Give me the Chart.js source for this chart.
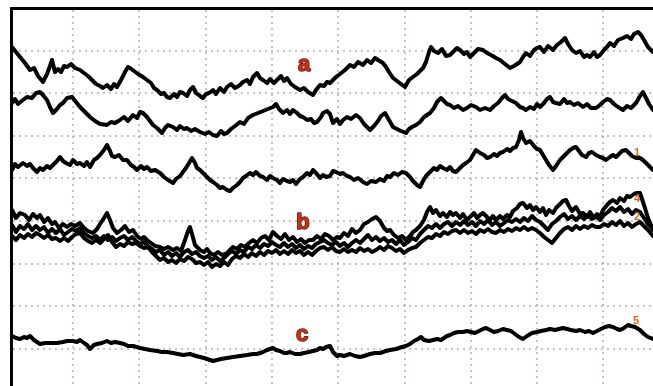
<!DOCTYPE html>
<html>
<head>
<meta charset="utf-8">
<script src="https://cdn.jsdelivr.net/npm/chart.js@4.4.0/dist/chart.umd.min.js"></script>
<style>
  html, body { margin: 0; padding: 0; background: #fff; overflow: hidden; }
</style>
</head>
<body>
<canvas id="trazos" width="653" height="386"></canvas>
<script>
// Posiciones de las líneas punteadas de la rejilla
const gridX = [73, 139, 206, 272, 338, 405, 471, 537, 603];
const gridY = [51, 93, 136, 178, 221, 264, 306, 349];

// Trazos: [posición horizontal, posición vertical]
const trazoA = [[12,47],[16,52],[20,57],[25,63],[30,70],[34,68],[38,76],[43,82],[47,74],[50,66],[52,60],[55,72],[58,69],[61,72],[64,66],[67,67],[71,64],[75,68],[80,70],[84,73],[88,76],[92,80],[96,84],[100,86],[103,88],[107,85],[111,89],[114,84],[117,87],[121,80],[125,72],[128,67],[130,68],[134,71],[138,74],[143,77],[147,80],[151,83],[154,88],[157,90],[161,94],[164,93],[167,97],[170,98],[174,94],[177,97],[180,92],[183,93],[187,96],[190,90],[193,87],[196,93],[200,96],[203,98],[206,94],[209,93],[213,90],[216,94],[220,88],[224,92],[227,87],[231,84],[235,88],[240,85],[243,82],[247,80],[250,84],[253,77],[257,73],[260,78],[263,80],[267,83],[270,79],[274,83],[277,80],[281,76],[284,81],[287,78],[291,84],[295,87],[300,90],[304,88],[308,92],[313,95],[316,90],[320,85],[324,86],[327,82],[330,83],[336,77],[340,74],[345,70],[350,65],[354,67],[358,62],[363,65],[367,60],[371,63],[375,58],[378,60],[383,63],[386,67],[389,72],[393,78],[397,81],[401,84],[405,87],[409,80],[413,77],[417,74],[420,71],[423,68],[426,62],[429,52],[431,47],[434,51],[438,53],[442,49],[446,56],[450,55],[454,51],[457,48],[460,50],[464,54],[467,52],[470,57],[474,53],[478,49],[483,50],[487,53],[491,55],[496,58],[500,60],[505,64],[510,68],[514,66],[517,64],[520,62],[523,57],[526,53],[530,56],[534,50],[537,48],[540,47],[544,52],[548,46],[553,50],[557,45],[561,42],[565,38],[568,44],[572,50],[576,53],[580,51],[584,57],[587,55],[590,57],[594,52],[597,57],[600,55],[604,50],[607,47],[610,43],[614,46],[618,40],[623,38],[627,36],[631,39],[634,34],[638,32],[641,35],[644,40],[648,47],[653,52]];

const trazo2 = [[12,103],[15,99],[18,104],[23,100],[27,97],[32,98],[36,93],[40,92],[43,95],[47,100],[50,107],[53,113],[57,109],[60,105],[63,103],[67,98],[72,97],[76,102],[80,107],[84,111],[87,114],[90,117],[95,121],[100,124],[107,125],[111,122],[115,123],[120,120],[124,117],[128,121],[133,115],[137,118],[140,112],[143,113],[147,117],[150,121],[153,125],[157,128],[162,133],[165,128],[168,125],[173,127],[177,130],[180,126],[184,129],[187,128],[191,131],[195,129],[200,132],[205,134],[209,132],[213,135],[217,136],[221,131],[224,134],[227,133],[231,129],[235,126],[240,122],[244,124],[248,118],[253,115],[258,113],[263,111],[268,109],[273,107],[276,104],[279,109],[283,113],[287,110],[290,114],[293,110],[297,113],[300,116],[303,117],[307,120],[311,119],[314,123],[317,122],[321,117],[323,113],[327,111],[330,114],[333,123],[337,119],[340,124],[343,120],[347,117],[351,119],[356,115],[360,118],[364,124],[367,127],[370,130],[374,126],[378,121],[381,116],[385,113],[389,120],[393,127],[397,129],[401,131],[406,133],[409,129],[412,127],[416,125],[420,122],[424,117],[427,115],[430,113],[434,108],[437,102],[441,98],[444,101],[447,104],[450,105],[454,108],[458,106],[463,110],[467,108],[471,105],[476,107],[480,110],[485,108],[490,110],[494,106],[498,103],[502,98],[505,95],[508,99],[512,101],[516,103],[520,107],[523,108],[526,110],[530,107],[534,109],[537,104],[540,107],[544,103],[547,99],[550,97],[553,102],[556,103],[560,104],[564,99],[567,103],[570,102],[574,105],[578,103],[583,107],[587,104],[591,108],[596,108],[600,105],[603,102],[607,99],[610,100],[614,104],[618,107],[623,110],[627,106],[631,108],[636,103],[640,96],[643,92],[646,98],[649,104],[653,110]];

const trazo1 = [[12,170],[15,164],[18,167],[23,163],[27,166],[30,164],[33,168],[37,172],[40,168],[43,170],[47,166],[50,168],[53,165],[57,161],[60,157],[63,161],[66,163],[70,165],[73,160],[77,164],[80,163],[84,166],[87,162],[90,167],[94,160],[97,158],[100,155],[104,150],[107,145],[110,151],[112,156],[115,157],[119,155],[123,160],[127,160],[131,165],[134,167],[137,170],[141,166],[144,169],[147,167],[151,171],[155,170],[160,173],[164,177],[168,180],[173,183],[176,179],[180,176],[183,172],[186,168],[189,163],[192,158],[195,163],[197,168],[200,170],[204,174],[207,177],[210,180],[213,182],[217,185],[220,188],[223,187],[227,190],[230,191],[233,188],[237,185],[240,182],[243,178],[246,176],[250,173],[253,175],[256,172],[260,176],[263,177],[267,180],[270,176],[273,178],[277,180],[280,183],[283,179],[287,181],[290,182],[293,180],[296,184],[300,179],[303,177],[307,173],[310,175],[313,170],[316,173],[320,178],[323,175],[326,177],[330,176],[333,171],[336,172],[340,174],[343,173],[347,176],[350,177],[354,180],[358,178],[363,182],[367,184],[371,181],[376,182],[380,179],[384,181],[387,176],[390,177],[394,173],[398,175],[402,172],[406,173],[410,177],[413,181],[417,185],[420,187],[423,181],[426,176],[430,172],[434,168],[437,170],[440,166],[443,168],[447,170],[450,167],[453,171],[456,172],[460,168],[463,165],[466,163],[470,160],[473,155],[476,150],[480,153],[484,155],[487,158],[490,157],[494,154],[497,156],[500,153],[503,152],[507,149],[510,151],[513,148],[516,147],[519,140],[521,132],[523,138],[526,143],[530,141],[534,146],[537,149],[540,150],[543,155],[546,160],[549,165],[553,170],[556,166],[560,160],[563,157],[567,153],[570,150],[573,148],[576,147],[579,151],[582,155],[586,157],[589,153],[592,152],[596,155],[600,157],[603,158],[606,160],[610,157],[613,155],[616,157],[619,154],[622,151],[626,150],[629,153],[632,156],[636,158],[640,158],[643,160],[646,163],[650,167],[653,170]];

const trazo4 = [[12,210],[16,218],[20,213],[25,215],[29,220],[33,214],[37,218],[40,215],[44,222],[48,218],[52,224],[55,222],[59,228],[63,224],[67,227],[71,224],[75,226],[80,223],[84,228],[88,231],[93,233],[97,229],[100,224],[104,218],[107,213],[110,220],[113,228],[117,233],[121,230],[125,226],[129,232],[133,230],[137,236],[141,239],[144,237],[147,240],[151,243],[155,246],[160,247],[164,249],[168,247],[173,250],[177,248],[181,251],[185,240],[188,231],[190,227],[192,234],[195,245],[200,250],[204,252],[207,249],[210,253],[214,255],[218,252],[222,255],[227,253],[230,250],[233,247],[237,249],[241,245],[245,247],[249,243],[253,240],[257,243],[261,238],[265,236],[269,240],[273,232],[277,236],[281,239],[285,234],[289,240],[293,237],[297,242],[301,239],[305,243],[309,240],[313,240],[317,236],[321,239],[325,234],[329,236],[333,240],[337,237],[340,238],[344,233],[348,236],[352,229],[356,233],[360,230],[364,224],[368,222],[372,219],[376,217],[380,221],[384,228],[387,231],[390,230],[394,235],[398,238],[402,236],[406,240],[410,236],[413,232],[416,230],[420,226],[424,220],[427,212],[430,207],[433,213],[436,210],[440,216],[443,213],[447,217],[450,212],[453,215],[456,213],[460,218],[463,214],[467,220],[470,217],[474,213],[477,218],[480,215],[483,213],[487,217],[490,220],[493,216],[496,220],[500,216],[503,219],[507,215],[510,217],[513,211],[517,208],[520,204],[523,203],[527,208],[530,205],[533,210],[536,207],[540,212],[543,208],[546,215],[549,210],[553,213],[556,208],[560,204],[563,201],[566,200],[569,206],[572,211],[576,207],[580,214],[583,213],[587,217],[590,212],[594,218],[597,214],[600,217],[603,210],[607,205],[610,202],[613,200],[617,203],[620,198],[624,201],[627,196],[630,197],[634,194],[637,193],[640,193],[644,205],[648,218],[653,230]];

const trazo3 = [[12,225],[16,232],[20,226],[24,229],[28,224],[32,230],[36,226],[40,230],[44,227],[48,233],[52,229],[56,233],[60,229],[64,235],[68,232],[72,229],[76,231],[80,228],[84,233],[88,236],[92,238],[96,236],[100,240],[104,236],[108,240],[112,237],[116,241],[120,238],[124,236],[128,240],[132,237],[136,241],[140,244],[144,242],[148,246],[152,249],[156,252],[160,250],[164,255],[168,252],[172,256],[176,253],[180,257],[184,252],[188,250],[192,254],[196,252],[200,256],[204,258],[208,256],[212,260],[216,257],[220,261],[224,258],[228,254],[232,251],[236,254],[240,250],[244,252],[248,247],[252,249],[256,245],[260,248],[264,244],[268,246],[272,242],[276,245],[280,247],[284,243],[288,247],[292,244],[296,248],[300,245],[304,249],[308,246],[312,248],[316,244],[320,242],[324,240],[328,243],[332,245],[336,242],[340,246],[344,243],[348,247],[352,243],[356,240],[360,243],[364,239],[368,235],[372,240],[376,237],[380,241],[384,238],[388,242],[392,240],[396,244],[400,240],[404,245],[408,242],[412,238],[416,240],[420,234],[424,230],[428,226],[432,228],[436,224],[440,228],[444,224],[448,222],[452,226],[456,222],[460,225],[464,221],[468,225],[472,222],[476,226],[480,221],[484,224],[488,220],[492,225],[496,222],[500,226],[504,223],[508,220],[512,222],[516,219],[520,222],[524,218],[528,221],[532,216],[536,220],[540,222],[544,226],[548,230],[552,224],[556,221],[560,217],[564,214],[568,219],[572,216],[576,220],[580,216],[584,219],[588,215],[592,219],[596,216],[600,220],[604,215],[608,212],[612,208],[616,211],[620,207],[624,212],[628,209],[632,214],[636,210],[640,212],[644,218],[648,224],[653,229]];

const trazo2b = [[12,236],[16,240],[20,235],[24,238],[28,234],[32,237],[36,233],[40,235],[44,238],[48,235],[52,239],[56,238],[60,241],[64,238],[68,241],[72,237],[76,234],[80,233],[84,238],[88,241],[92,243],[96,240],[100,243],[104,239],[108,235],[112,242],[116,247],[120,244],[124,246],[128,242],[132,244],[136,243],[140,246],[144,248],[148,247],[152,252],[156,256],[160,260],[164,258],[168,262],[172,260],[176,263],[180,259],[184,261],[188,257],[192,259],[196,263],[200,262],[204,265],[208,262],[212,267],[216,264],[220,266],[224,262],[228,265],[232,259],[236,256],[240,258],[244,254],[248,257],[252,253],[256,256],[260,252],[264,255],[268,251],[272,253],[276,250],[280,254],[284,251],[288,254],[292,250],[296,253],[300,251],[304,255],[308,252],[312,255],[316,251],[320,248],[324,247],[328,250],[332,247],[336,251],[340,252],[344,249],[348,252],[352,250],[356,252],[360,248],[364,251],[368,249],[372,252],[376,250],[380,247],[384,250],[388,246],[392,248],[396,251],[400,249],[404,253],[408,250],[412,248],[416,247],[420,243],[424,240],[428,237],[432,238],[436,234],[440,236],[444,232],[448,234],[452,231],[456,230],[460,233],[464,230],[468,233],[472,231],[476,234],[480,230],[484,232],[488,229],[492,232],[496,233],[500,230],[504,232],[508,229],[512,231],[516,228],[520,230],[524,227],[528,230],[532,228],[536,230],[540,233],[544,237],[548,240],[552,243],[556,238],[560,233],[564,229],[568,227],[572,230],[576,226],[580,229],[584,226],[588,228],[592,225],[596,227],[600,227],[604,224],[608,226],[612,222],[616,225],[620,221],[624,226],[628,223],[632,227],[636,224],[640,222],[644,226],[648,230],[653,236]];

const trazoC = [[12,336],[16,338],[20,339],[24,337],[27,338],[30,336],[34,340],[37,342],[40,344],[45,343],[50,343],[57,343],[63,342],[67,341],[73,341],[77,342],[80,340],[84,343],[87,345],[90,349],[94,345],[97,344],[102,343],[107,341],[111,343],[115,342],[120,343],[124,344],[128,346],[133,346],[137,347],[140,348],[145,349],[150,350],[157,351],[162,352],[167,352],[173,353],[178,354],[183,355],[190,354],[196,356],[200,357],[204,358],[207,359],[210,360],[213,361],[217,360],[221,359],[227,358],[233,357],[240,356],[247,355],[253,354],[257,354],[263,352],[267,350],[270,349],[273,348],[276,350],[280,351],[284,353],[287,353],[290,352],[295,354],[300,354],[304,353],[309,352],[313,351],[317,350],[320,348],[323,349],[326,347],[330,346],[333,352],[337,356],[340,355],[344,356],[350,354],[355,356],[360,357],[364,356],[370,354],[375,353],[380,353],[386,351],[390,350],[396,349],[402,347],[406,346],[410,344],[414,341],[418,339],[421,337],[424,340],[429,341],[433,340],[437,339],[441,340],[444,338],[447,336],[450,335],[454,333],[458,332],[463,332],[467,331],[471,332],[475,333],[479,331],[483,329],[486,328],[490,330],[494,332],[498,331],[503,329],[507,330],[511,331],[515,334],[519,337],[523,339],[527,336],[532,333],[537,332],[541,331],[546,330],[550,329],[555,330],[559,329],[563,328],[567,329],[571,330],[576,331],[580,330],[585,332],[589,331],[593,333],[597,331],[601,329],[605,327],[609,326],[613,327],[617,329],[620,330],[624,328],[628,325],[631,326],[635,327],[640,330],[644,334],[648,337],[653,339]];

// Letras rojas de los grupos y números pequeños del borde derecho
const letras = ['a', 'b', 'c'];
const letrasX = [304, 303, 302];
const letrasY = [65, 223, 335];
const numeros = ['1', '4', '2', '5'];
const numerosX = [637, 637, 637, 636];
const numerosY = [153, 199, 217, 321];

const trazos = [trazoA, trazo2, trazo1, trazo4, trazo3, trazo2b, trazoC];

const etiquetas = {
    id: 'etiquetas',
    afterDatasetsDraw(chart) {
        const { ctx, scales: { x, y } } = chart;
        ctx.save();
        ctx.textAlign = 'center';
        ctx.textBaseline = 'middle';
        ctx.font = 'bold 22px "Liberation Sans", Arial, sans-serif';
        ctx.lineJoin = 'round';
        letras.forEach((t, i) => {
            const px = x.getPixelForValue(letrasX[i]);
            const py = y.getPixelForValue(letrasY[i]);
            ctx.lineWidth = 1.5;
            ctx.strokeStyle = '#6b1208';
            ctx.strokeText(t, px, py);
            ctx.fillStyle = '#cc2f17';
            ctx.fillText(t, px, py);
        });
        ctx.font = 'bold 11px "Liberation Sans", Arial, sans-serif';
        ctx.fillStyle = '#d9651e';
        numeros.forEach((t, i) => {
            ctx.fillText(t, x.getPixelForValue(numerosX[i]), y.getPixelForValue(numerosY[i]));
        });
        ctx.restore();
    }
};

const rejilla = {
    color: 'rgba(170, 140, 130, 0.55)',
    lineWidth: 2,
    drawTicks: false
};

const ctx = document.getElementById('trazos').getContext('2d');
new Chart(ctx, {
    type: 'line',
    data: {
        datasets: trazos.map(t => ({
            data: t.map(p => ({ x: p[0], y: p[1] })),
            borderColor: '#000',
            borderWidth: 4,
            borderJoinStyle: 'round',
            borderCapStyle: 'round',
            pointRadius: 0,
            tension: 0,
            fill: false
        }))
    },
    options: {
        responsive: false,
        animation: false,
        layout: { padding: { left: 11, top: 8, right: 0, bottom: 0 } },
        plugins: {
            legend: { display: false },
            tooltip: { enabled: false }
        },
        scales: {
            x: {
                type: 'linear',
                position: 'top',
                min: 11,
                max: 653,
                afterBuildTicks: s => { s.ticks = gridX.map(v => ({ value: v })); },
                afterFit: s => { s.height = 0; },
                ticks: { display: false },
                grid: rejilla,
                border: { display: true, color: '#000', width: 3, dash: [2, 4] }
            },
            y: {
                type: 'linear',
                reverse: true,
                min: 8,
                max: 386,
                afterBuildTicks: s => { s.ticks = gridY.map(v => ({ value: v })); },
                afterFit: s => { s.width = 0; },
                ticks: { display: false },
                grid: rejilla,
                border: { display: true, color: '#000', width: 3, dash: [2, 4] }
            }
        }
    },
    plugins: [etiquetas]
});
</script>
</body>
</html>
